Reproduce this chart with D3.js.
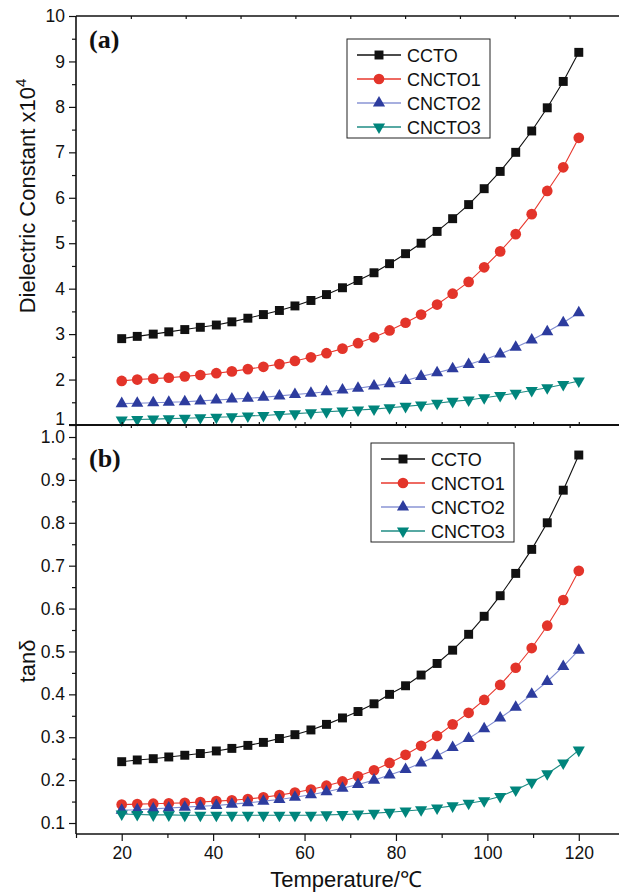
<!DOCTYPE html>
<html>
<head>
<meta charset="utf-8">
<script src="https://cdn.jsdelivr.net/npm/d3@7"></script>
<style>
body { margin: 0; background: #fff; }
svg { display: block; font-family: "Liberation Sans", Arial, sans-serif; }
</style>
</head>
<body>
<div id="chart"></div>
<script>
// temperatures (degC)
const temps = [20, 23.4, 26.9, 30.3, 33.8, 37.2, 40.7, 44.1, 47.6, 51.0, 54.5, 57.9, 61.4, 64.8, 68.3,
  71.7, 75.2, 78.6, 82.1, 85.5, 89.0, 92.4, 95.9, 99.3, 102.8, 106.2, 109.7, 113.1, 116.6, 120]

// (a) dielectric constant x10^4
const epsCCTO = [2.90, 2.95, 3.00, 3.05, 3.10, 3.15, 3.20, 3.27, 3.35, 3.43, 3.52, 3.62, 3.74, 3.87, 4.02,
  4.18, 4.35, 4.55, 4.77, 5.00, 5.26, 5.54, 5.85, 6.20, 6.58, 7.00, 7.47, 7.98, 8.56, 9.20]
const epsCNCTO1 = [1.97, 2.00, 2.02, 2.04, 2.07, 2.10, 2.14, 2.18, 2.23, 2.28, 2.34, 2.41, 2.49, 2.58, 2.68,
  2.80, 2.93, 3.08, 3.25, 3.43, 3.65, 3.89, 4.15, 4.47, 4.82, 5.20, 5.64, 6.15, 6.67, 7.32]
const epsCNCTO2 = [1.47, 1.48, 1.49, 1.50, 1.51, 1.53, 1.55, 1.57, 1.59, 1.61, 1.64, 1.67, 1.70, 1.73, 1.77,
  1.81, 1.86, 1.91, 1.98, 2.07, 2.15, 2.24, 2.33, 2.44, 2.56, 2.71, 2.87, 3.05, 3.25, 3.47]
const epsCNCTO3 = [1.11, 1.12, 1.13, 1.14, 1.15, 1.16, 1.17, 1.18, 1.20, 1.21, 1.23, 1.25, 1.27, 1.29, 1.31,
  1.33, 1.35, 1.38, 1.41, 1.44, 1.48, 1.52, 1.55, 1.60, 1.65, 1.70, 1.76, 1.82, 1.89, 1.97]

// (b) tan delta
const tanCCTO = [0.243, 0.247, 0.250, 0.254, 0.258, 0.262, 0.268, 0.274, 0.281, 0.288, 0.297, 0.306, 0.317, 0.330, 0.345,
  0.360, 0.378, 0.400, 0.420, 0.445, 0.472, 0.503, 0.540, 0.582, 0.630, 0.682, 0.738, 0.800, 0.876, 0.958]
const tanCNCTO1 = [0.143, 0.144, 0.145, 0.146, 0.147, 0.149, 0.151, 0.153, 0.156, 0.160, 0.165, 0.171, 0.178, 0.187, 0.197,
  0.209, 0.223, 0.240, 0.259, 0.280, 0.303, 0.330, 0.357, 0.387, 0.422, 0.462, 0.508, 0.560, 0.620, 0.688]
const tanCNCTO2 = [0.130, 0.131, 0.133, 0.135, 0.137, 0.139, 0.141, 0.144, 0.147, 0.151, 0.155, 0.160, 0.166, 0.173, 0.181,
  0.190, 0.200, 0.212, 0.225, 0.240, 0.257, 0.276, 0.297, 0.320, 0.345, 0.370, 0.400, 0.430, 0.465, 0.503]
const tanCNCTO3 = [0.121, 0.120, 0.119, 0.119, 0.118, 0.118, 0.118, 0.118, 0.118, 0.118, 0.118, 0.118, 0.118, 0.119, 0.120,
  0.121, 0.123, 0.125, 0.128, 0.131, 0.135, 0.140, 0.146, 0.152, 0.162, 0.177, 0.195, 0.215, 0.240, 0.270]

const seriesNames = ["CCTO", "CNCTO1", "CNCTO2", "CNCTO3"]
const yTicksA = [1, 2, 3, 4, 5, 6, 7, 8, 9, 10]
const yTicksB = [0.1, 0.2, 0.3, 0.4, 0.5, 0.6, 0.7, 0.8, 0.9, 1.0]
const xTickLabels = [20, 40, 60, 80, 100, 120]

const styles = [
  { line: "#111", fill: "#111", sym: d3.symbolSquare, size: 80, rot: 0 },
  { line: "#e8382e", fill: "#e3342a", sym: d3.symbolCircle, size: 90, rot: 0 },
  { line: "#7f8bd0", fill: "#2d3c9e", sym: d3.symbolTriangle, size: 64, rot: 0 },
  { line: "#1f8c84", fill: "#00857c", sym: d3.symbolTriangle, size: 64, rot: 180 }
]

const width = 619
const height = 893
const left = 76
const panelA = { top: 16, bottom: 425 }
const panelB = { top: 425, bottom: 834 }

const svg = d3.select("#chart").append("svg")
  .attr("width", width)
  .attr("height", height)

const xScale = d3.scaleLinear().domain([10, 130]).range([left, 624.5])
const yA = d3.scaleLinear().domain([1, 10]).range([panelA.bottom, panelA.top])
const yB = d3.scaleLinear().domain([0.0744, 1.028]).range([panelB.bottom, panelB.top])

const styleAxis = g => {
  g.select(".domain").remove()
  g.selectAll("line").attr("stroke", "#111").attr("stroke-width", 1.2)
  g.selectAll("text").attr("fill", "#111").attr("font-size", 17.5)
}

const drawPanel = (yScale, yTicks, yMinor, fmt, data, panel) => {
  // left axis major ticks
  const ax = svg.append("g")
    .attr("transform", `translate(${left},0)`)
    .call(d3.axisLeft(yScale).tickValues(yTicks).tickFormat(fmt).tickSize(7).tickPadding(4))
    .call(styleAxis)
  svg.append("g")
    .attr("transform", `translate(${left},0)`)
    .call(d3.axisLeft(yScale).tickValues(yMinor).tickFormat("").tickSize(4))
    .call(styleAxis)

  const plot = svg.append("g")
  data.forEach((vals, k) => {
    const st = styles[k]
    const pts = temps.map((t, i) => [t, vals[i]])
    plot.append("path")
      .datum(pts)
      .attr("fill", "none")
      .attr("stroke", st.line)
      .attr("stroke-width", 1.1)
      .attr("d", d3.line().x(d => xScale(d[0])).y(d => yScale(d[1])))
    plot.selectAll(null)
      .data(pts)
      .enter()
      .append("path")
      .attr("d", d3.symbol().type(st.sym).size(st.size))
      .attr("fill", st.fill)
      .attr("transform", d => `translate(${xScale(d[0])},${yScale(d[1])}) rotate(${st.rot})`)
  })

  // left axis line
  svg.append("line")
    .attr("x1", left).attr("x2", left)
    .attr("y1", panel.top).attr("y2", panel.bottom)
    .attr("stroke", "#111").attr("stroke-width", 1.6)
  return ax
}

const drawLegend = (x0, y0) => {
  const g = svg.append("g").attr("transform", `translate(${x0},${y0})`)
  g.append("rect")
    .attr("width", 143).attr("height", 99)
    .attr("fill", "#fff").attr("stroke", "#222").attr("stroke-width", 1)
  seriesNames.forEach((name, k) => {
    const st = styles[k]
    const yy = 16 + k * 24
    g.append("line")
      .attr("x1", 10).attr("x2", 54).attr("y1", yy).attr("y2", yy)
      .attr("stroke", k === 2 ? "#8a94d4" : st.line).attr("stroke-width", 1.3)
    g.append("path")
      .attr("d", d3.symbol().type(st.sym).size(st.size))
      .attr("fill", st.fill)
      .attr("transform", `translate(32,${yy}) rotate(${st.rot})`)
    g.append("text")
      .attr("x", 60).attr("y", yy + 6.5)
      .attr("font-size", 18).attr("fill", "#111")
      .text(name)
  })
}

const axA = drawPanel(yA, yTicksA, d3.range(1.5, 10, 1), d3.format("d"),
  [epsCCTO, epsCNCTO1, epsCNCTO2, epsCNCTO3], panelA)
drawPanel(yB, yTicksB, [0.15, 0.25, 0.35, 0.45, 0.55, 0.65, 0.75, 0.85, 0.95], d3.format(".1f"),
  [tanCCTO, tanCNCTO1, tanCNCTO2, tanCNCTO3], panelB)
// the "1" label of (a) sits just above the "1.0" of (b)
axA.selectAll(".tick text").filter(d => d === 1).attr("dy", "-0.05em")

// top frame of panel (a) with inward ticks
const topTicks = d3.range(22, 131, 12)
svg.append("g")
  .attr("transform", `translate(0,${panelA.top})`)
  .call(d3.axisBottom(xScale).tickValues(topTicks).tickFormat("").tickSize(3))
  .call(styleAxis)
svg.append("line")
  .attr("x1", left).attr("x2", width).attr("y1", panelA.top).attr("y2", panelA.top)
  .attr("stroke", "#111").attr("stroke-width", 1.4)

// boundary between panels: ticks of (a) bottom up, ticks of (b) top down
svg.append("g")
  .attr("transform", `translate(0,${panelA.bottom})`)
  .call(d3.axisTop(xScale).tickValues(d3.range(20, 131, 10)).tickFormat("").tickSize(3))
  .call(styleAxis)
svg.append("g")
  .attr("transform", `translate(0,${panelB.top})`)
  .call(d3.axisBottom(xScale).tickValues(topTicks).tickFormat("").tickSize(3))
  .call(styleAxis)
svg.append("line")
  .attr("x1", left - 7).attr("x2", width).attr("y1", panelA.bottom).attr("y2", panelA.bottom)
  .attr("stroke", "#111").attr("stroke-width", 2)

// bottom x axis
svg.append("g")
  .attr("transform", `translate(0,${panelB.bottom})`)
  .call(d3.axisBottom(xScale).tickValues(xTickLabels).tickFormat(d3.format("d")).tickSize(7).tickPadding(6))
  .call(styleAxis)
svg.append("g")
  .attr("transform", `translate(0,${panelB.bottom})`)
  .call(d3.axisBottom(xScale).tickValues(d3.range(10, 131, 20)).tickFormat("").tickSize(4))
  .call(styleAxis)
svg.append("line")
  .attr("x1", left).attr("x2", width).attr("y1", panelB.bottom).attr("y2", panelB.bottom)
  .attr("stroke", "#111").attr("stroke-width", 1.6)

drawLegend(347, 39)
drawLegend(371, 443)

// panel tags
svg.append("text").attr("x", 89).attr("y", 48)
  .attr("font-family", "'Liberation Serif', 'DejaVu Serif', serif")
  .attr("font-weight", "bold").attr("font-size", 26).attr("fill", "#111")
  .text("(a)")
svg.append("text").attr("x", 89).attr("y", 467)
  .attr("font-family", "'Liberation Serif', 'DejaVu Serif', serif")
  .attr("font-weight", "bold").attr("font-size", 26).attr("fill", "#111")
  .text("(b)")

// axis titles
const yTitleA = svg.append("text")
  .attr("transform", `translate(35,196) rotate(-90)`)
  .attr("text-anchor", "middle")
  .attr("font-size", 22).attr("fill", "#111")
yTitleA.append("tspan").text("Dielectric Constant x10")
yTitleA.append("tspan").attr("dy", -9).attr("font-size", 15).text("4")

svg.append("text")
  .attr("transform", `translate(35,661) rotate(-90)`)
  .attr("text-anchor", "middle")
  .attr("font-size", 22).attr("fill", "#111")
  .text("tanδ")

svg.append("text")
  .attr("x", 346).attr("y", 887)
  .attr("text-anchor", "middle")
  .attr("font-size", 22).attr("fill", "#111")
  .text("Temperature/℃")
</script>
</body>
</html>
